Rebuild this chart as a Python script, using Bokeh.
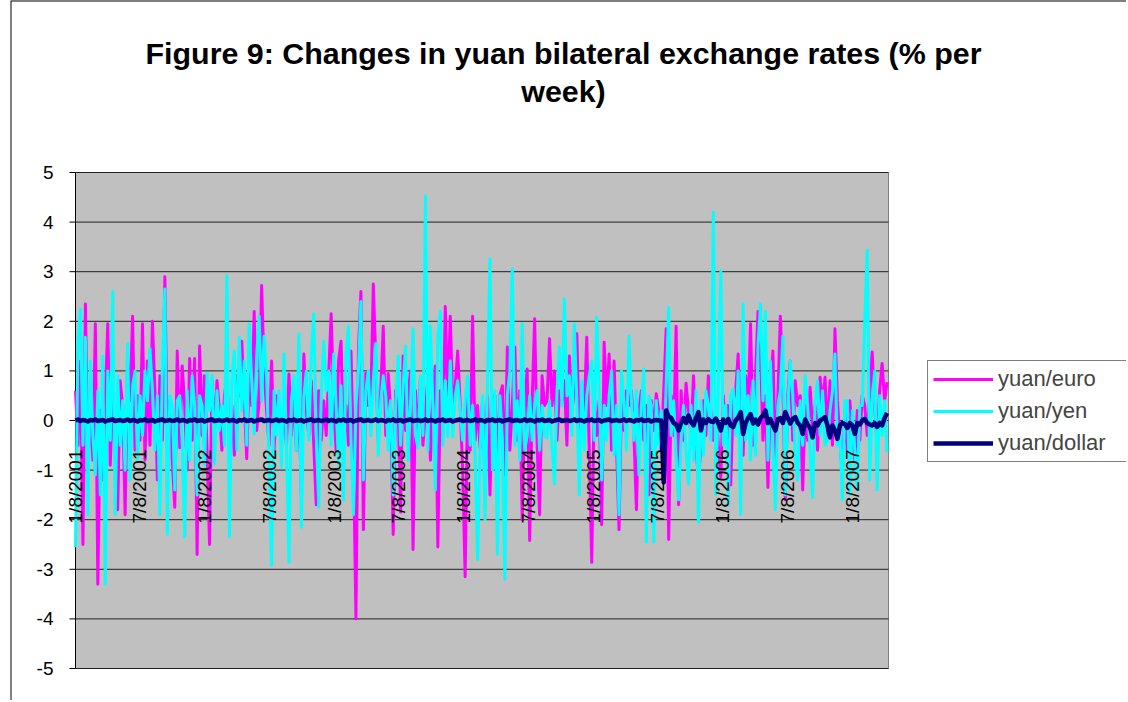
import pandas as pd
from math import pi
from bokeh.plotting import figure
from bokeh.models import Legend, LegendItem, Range1d
from bokeh.core.properties import value
from bokeh.embed import file_html
from bokeh.resources import INLINE

start_date = "2001-01-08"

tick_labels = ["1/8/2001", "7/8/2001", "1/8/2002", "7/8/2002", "1/8/2003", "7/8/2003",
               "1/8/2004", "7/8/2004", "1/8/2005", "7/8/2005", "1/8/2006", "7/8/2006",
               "1/8/2007"]

y_ticks = [-5, -4, -3, -2, -1, 0, 1, 2, 3, 4, 5]

yuan_euro = [
    0.6, -0.5, 1.2, -2.5, 2.35, -1.0, 0.3, -0.8, 1.95, -3.3, 0.2, -1.2, 0.4, 1.95,
    -0.9, 0.5, -0.3, -1.8, 0.8, 0.3, -1.9, 1.2, 0.4, 2.1, -0.6, 0.5, -0.4, 1.95,
    -0.8, 1.2, -0.5, 2.0, 0.6, -1.2, 0.9, -0.4, 2.9, -0.6, 0.4, -0.8, -1.75, 1.4,
    -0.55, 1.1, 0.3, -1.0, 1.25, -0.4, 1.25, -2.7, 1.5, -0.3, 0.9, -0.6, -2.5, 0.8,
    -0.3, 0.8, 0.2, -0.6, 0.5, 0.87, -0.4, 0.3, -0.7, 0.9, 0.5, 1.6, 0.4, -0.77,
    1.0, 0.3, 2.2, -0.2, 0.4, 2.72, 1.0, 0.2, -0.5, 1.2, -0.6, 0.5, 0.2, -0.4,
    0.3, -0.5, 0.94, -0.3, 0.5, -0.6, 0.4, -1.5, 1.34, 0.2, -0.3, 0.8, -0.5, -1.7,
    0.6, -0.4, 0.4, -0.3, 0.9, 2.15, 0.4, -0.6, 1.2, 1.6, -0.6, 0.3, -0.5, 1.4,
    -0.7, -4.0, 1.4, 2.6, -2.2, 0.95, 0.3, 0.4, 2.75, 1.2, -0.4, 0.6, 1.9, -0.3,
    0.95, 0.2, -2.3, 0.6, 0.3, -1.85, 1.3, -0.2, 0.5, 1.0, -2.6, 0.6, -0.3, 0.87,
    -0.5, 0.2, 0.87, -0.8, 0.4, 1.1, -2.55, 0.6, -0.3, 2.3, 0.4, 2.1, 0.3, 0.7,
    1.4, 0.3, -1.0, -3.15, 0.5, -0.6, 2.1, -0.4, 0.3, -0.55, 0.4, -1.2, 0.5, -1.5,
    0.5, 0.5, -0.9, 0.5, 0.7, -1.1, 1.48, -0.6, 0.3, 1.48, -0.4, 0.6, -2.0, 0.3,
    1.04, -2.42, 0.4, 2.05, -0.5, -1.9, 0.9, 0.3, 0.4, 1.65, 0.3, 1.0, -0.4, 0.6,
    0.4, 0.8, -0.5, 1.3, 0.2, 0.6, 1.75, -0.4, 0.5, 0.2, 1.68, -0.6, -2.86, 0.5,
    -0.3, 0.4, -2.1, 1.58, 0.3, 1.34, -0.6, 1.2, -0.5, -2.2, 0.45, -0.2, 0.6, 0.3,
    0.6, -0.3, -1.8, 0.2, 0.6, -0.4, 0.3, -1.5, 0.4, -0.2, 0.54, 0.2, -0.6, 0.6,
    1.85, -2.4, 0.5, -0.3, 1.9, -1.7, 0.6, -0.4, 0.75, 0.2, -0.3, 0.9, -0.5, -1.2,
    -0.5, 0.4, -0.3, 0.9, 0.2, -0.4, 0.3, -0.5, -1.15, 0.5, -0.3, 0.3, -1.3, 0.4,
    0.6, 1.34, -0.3, -0.7, 0.9, 0.3, 1.95, -0.5, 0.9, 2.2, 1.4, -0.4, 0.5, -1.35,
    0.6, 1.4, -0.8, 0.5, 2.1, 0.8, -1.6, 0.5, 1.2, -0.4, 0.8, 0.3, 0.5, -1.4,
    0.3, -0.4, 0.67, -0.2, 0.3, -0.6, 0.87, 0.3, 0.87, -0.3, 0.8, -0.5, 1.85, 0.4,
    -0.4, -1.1, 0.2, -0.6, 0.4, -0.3, -0.8, 0.2, -0.4, 0.5, 0.3, -0.3, 0.5, 1.38,
    0.3, -0.5, 0.6, 1.15, 0.4, 0.77,
]

yuan_yen = [
    -2.55, 1.6, 2.25, -0.5, 1.68, -1.9, 1.2, -0.3, -1.1, 0.6, -1.5, 1.3, -3.3, 1.0,
    -0.4, 2.6, -1.9, 0.9, -0.5, 0.4, -1.0, 1.55, -1.2, 0.7, 1.0, -0.8, 0.5, -0.3,
    1.0, 0.4, 1.45, 0.6, -0.6, 0.5, -1.9, 1.0, 2.65, -2.3, 0.5, 0.3, -1.4, 0.4,
    0.5, -0.5, -2.35, 0.6, -0.8, 0.9, 0.3, -1.5, 0.5, 0.3, -0.9, 0.95, 0.2, 0.9,
    -0.87, 0.6, -0.2, 0.3, -0.5, 2.92, -2.35, 0.8, 1.4, -0.6, 1.68, 0.2, 1.2, -0.5,
    1.95, 0.8, -0.27, 1.3, 2.1, 0.4, 1.7, 0.9, -0.8, -2.92, 0.6, -0.3, 0.6, -0.94,
    1.34, -0.5, -2.86, 0.4, 0.9, -0.6, 1.75, -2.15, 0.5, 1.0, -0.4, 1.3, 2.15, -0.3,
    -1.75, 0.5, 1.6, 0.6, 1.0, -0.5, 1.34, 0.3, -0.9, 0.7, -1.6, 1.34, 1.9, -0.4,
    -1.9, 0.3, 1.0, 2.4, -1.2, 0.6, 1.0, -0.3, 0.8, 1.55, -0.7, 0.4, 0.9, 0.5,
    -0.6, 0.4, -1.5, 0.3, 1.3, -0.5, 0.7, 1.5, -0.8, 0.3, 1.85, -0.3, -0.55, 0.9,
    -0.3, 4.53, -0.6, 1.9, 0.3, -1.4, 1.75, 2.2, -0.5, 0.8, -0.33, 1.2, -0.33, 0.5,
    0.8, 0.2, -0.4, 0.4, 0.9, -0.5, 0.3, -0.7, -2.8, -0.6, 0.5, -2.0, 0.8, 3.26,
    -1.0, 0.6, -2.7, 0.5, -0.4, -3.2, 0.5, 1.0, 3.06, -0.5, 0.4, -0.8, 1.95, -0.6,
    -0.3, 0.5, -0.4, 0.3, 0.6, -0.6, 0.3, -0.3, -0.35, 0.4, -0.5, -1.28, 0.6, 1.48,
    0.3, 2.45, 0.5, 0.9, -0.3, 1.95, 0.4, -1.5, 0.8, -0.6, 0.5, 0.9, 1.2, -0.4,
    2.08, 0.6, -1.2, 0.3, -0.4, 0.5, 1.0, -0.7, 0.3, -1.9, 1.0, 0.4, -0.6, 1.7,
    0.4, -0.4, 0.6, -1.1, 0.3, 1.04, -2.45, 0.5, 0.3, -2.45, 0.4, -0.5, 0.2, -0.8,
    0.7, 2.28, -0.3, 0.4, -0.7, -1.6, -0.4, 0.3, -0.6, -1.28, 0.3, -0.8, 0.6, -2.05,
    0.4, -0.7, 0.6, 0.3, -0.4, 4.2, -1.5, 0.6, 3.02, -0.5, 0.3, -1.7, 0.5, 0.64,
    -0.3, 1.0, -1.9, 2.35, -0.4, 0.5, -0.8, 0.8, -0.7, 1.5, 2.35, 0.4, 2.2, -0.8,
    1.2, -0.5, -1.8, 0.3, 0.6, 1.7, -1.5, 0.3, 1.2, 0.5, -0.7, -1.2, 0.4, -0.5,
    0.9, 0.3, -0.6, -1.55, 0.4, 0.8, -0.3, 0.6, -0.5, -0.4, 0.2, 0.6, 1.34, -0.5,
    -0.3, -1.6, 0.4, 0.4, -1.5, 0.2, -0.6, -1.4, 0.3, 0.3, 1.98, 3.43, -1.2, 0.4,
    1.0, -1.4, 0.5, -0.3, 0.4, -0.64,
]

yuan_dollar = [
    0.00, 0.02, -0.01, 0.01, 0.00, -0.02, 0.01, 0.00, 0.02, -0.01, 0.00, 0.01, -0.02, 0.00, 0.01, 0.02, -0.01, 0.00, 0.01, -0.01,
    0.00, 0.02, -0.01, 0.01, 0.00, -0.02, 0.01, 0.00, 0.02, -0.01, 0.00, 0.01, -0.02, 0.00, 0.01, 0.02, -0.01, 0.00, 0.01, -0.01,
    0.00, 0.02, -0.01, 0.01, 0.00, -0.02, 0.01, 0.00, 0.02, -0.01, 0.00, 0.01, -0.02, 0.00, 0.01, 0.02, -0.01, 0.00, 0.01, -0.01,
    0.00, 0.02, -0.01, 0.01, 0.00, -0.02, 0.01, 0.00, 0.02, -0.01, 0.00, 0.01, -0.02, 0.00, 0.01, 0.02, -0.01, 0.00, 0.01, -0.01,
    0.00, 0.02, -0.01, 0.01, 0.00, -0.02, 0.01, 0.00, 0.02, -0.01, 0.00, 0.01, -0.02, 0.00, 0.01, 0.02, -0.01, 0.00, 0.01, -0.01,
    0.00, 0.02, -0.01, 0.01, 0.00, -0.02, 0.01, 0.00, 0.02, -0.01, 0.00, 0.01, -0.02, 0.00, 0.01, 0.02, -0.01, 0.00, 0.01, -0.01,
    0.00, 0.02, -0.01, 0.01, 0.00, -0.02, 0.01, 0.00, 0.02, -0.01, 0.00, 0.01, -0.02, 0.00, 0.01, 0.02, -0.01, 0.00, 0.01, -0.01,
    0.00, 0.02, -0.01, 0.01, 0.00, -0.02, 0.01, 0.00, 0.02, -0.01, 0.00, 0.01, -0.02, 0.00, 0.01, 0.02, -0.01, 0.00, 0.01, -0.01,
    0.00, 0.02, -0.01, 0.01, 0.00, -0.02, 0.01, 0.00, 0.02, -0.01, 0.00, 0.01, -0.02, 0.00, 0.01, 0.02, -0.01, 0.00, 0.01, -0.01,
    0.00, 0.02, -0.01, 0.01, 0.00, -0.02, 0.01, 0.00, 0.02, -0.01, 0.00, 0.01, -0.02, 0.00, 0.01, 0.02, -0.01, 0.00, 0.01, -0.01,
    0.00, 0.02, -0.01, 0.01, 0.00, -0.02, 0.01, 0.00, 0.02, -0.01, 0.00, 0.01, -0.02, 0.00, 0.01, 0.02, -0.01, 0.00, 0.01, -0.01,
    0.00, 0.02, -0.01, 0.01, 0.00, -0.02, 0.01, 0.00, 0.02, -0.01, 0.00, 0.01, -0.02, 0.00, 0.01, 0.00,
    0.00, -1.25, 0.20, 0.08, 0.05, -0.05, -0.08, -0.20, -0.05, 0.05, -0.05, 0.10, -0.03, -0.10, 0.05, 0.17,
    -0.20, 0.02, -0.05, 0.03, -0.02, -0.03, 0.04, -0.06, -0.20, 0.02, -0.05, 0.03, -0.10, -0.13, 0.00, 0.06,
    0.17, -0.27, -0.05, 0.05, 0.13, -0.06, 0.02, -0.08, 0.05, 0.10, 0.20, -0.05, 0.03, -0.10, -0.20, 0.03,
    0.05, -0.05, 0.17, 0.05, -0.06, 0.03, 0.07, -0.05, -0.10, -0.27, 0.02, -0.08, -0.15, -0.34, -0.05, -0.10,
    0.00, 0.03, 0.07, -0.10, -0.34, -0.10, -0.20, -0.37, -0.10, -0.05, -0.07, -0.15, -0.05, -0.10, -0.27, -0.05,
    -0.08, 0.00, 0.03, -0.05, -0.08, -0.10, -0.05, -0.13, -0.05, -0.10, 0.05, 0.15,
]

series_names = ["yuan/euro", "yuan/yen", "yuan/dollar"]
series_colors = ["#FF00FF", "#00FFFF", "#000080"]
series_widths = [3, 3, 4.5]
series_values = [yuan_euro, yuan_yen, yuan_dollar]

title_lines = ["Figure 9: Changes in yuan bilateral exchange rates (% per", "week)"]

FONT = "Liberation Sans"

# ---- layout (pixels on the page) ----
CANVAS_W, CANVAS_H = 1126, 700
FRAME_LEFT = 10                      # chart border sits here
AREA_LEFT, AREA_RIGHT = 75, 888      # grey plot area
AREA_TOP, AREA_BOTTOM = 172, 668
TICK_LEN = 6


def week_dates(vals):
    return pd.date_range(start_date, periods=len(vals), freq="7D")


area_start = pd.Timestamp(start_date)
area_end = week_dates(yuan_euro)[-1] + pd.Timedelta(days=4)
span_days = (area_end - area_start) / pd.Timedelta(days=1)
px_per_day = (AREA_RIGHT - AREA_LEFT) / span_days
px_per_unit = (AREA_BOTTOM - AREA_TOP) / (y_ticks[-1] - y_ticks[0])


def px_x(px):
    return area_start + pd.Timedelta(days=(px - AREA_LEFT) / px_per_day)


def px_y(py):
    return y_ticks[-1] + (AREA_TOP - py) / px_per_unit


p = figure(frame_width=CANVAS_W - FRAME_LEFT, frame_height=CANVAS_H, x_axis_type="datetime",
           x_axis_location=None, y_axis_location=None,
           output_backend="svg", toolbar_location=None,
           min_border_left=FRAME_LEFT, min_border_right=0, min_border_top=0, min_border_bottom=0,
           x_range=Range1d(px_x(FRAME_LEFT), px_x(CANVAS_W)),
           y_range=Range1d(px_y(CANVAS_H), px_y(0)))

p.background_fill_color = "white"
p.border_fill_color = "white"
p.outline_line_color = None
p.grid.visible = False

# chart border (left and top edges are inside the window)
p.line(x=[px_x(FRAME_LEFT), px_x(FRAME_LEFT), px_x(CANVAS_W)],
       y=[px_y(CANVAS_H), px_y(0), px_y(0)], line_color="black", line_width=2)

# grey plot area with its border
p.quad(left=[area_start], right=[area_end], bottom=[y_ticks[0]], top=[y_ticks[-1]],
       fill_color="#C0C0C0", line_color="#808080", line_width=1)

# horizontal gridlines at every value tick
n = len(y_ticks)
p.segment(x0=[area_start] * n, x1=[area_end] * n, y0=y_ticks, y1=y_ticks,
          line_color="#202020", line_width=1)

# value axis: line, outward tick marks, labels
p.segment(x0=[area_start], x1=[area_start], y0=[y_ticks[0]], y1=[y_ticks[-1]],
          line_color="black", line_width=1)
p.segment(x0=[px_x(AREA_LEFT - TICK_LEN)] * n, x1=[area_start] * n, y0=y_ticks, y1=y_ticks,
          line_color="black", line_width=1)
p.text(x=[area_start] * n, y=y_ticks, text=[str(t) for t in y_ticks],
       text_align="right", text_baseline="middle", x_offset=-22,
       text_font=value(FONT), text_font_size="19px", text_color="black")

renderers = []
for name, col, w, vals in zip(series_names, series_colors, series_widths, series_values):
    r = p.line(week_dates(vals), vals, line_color=col, line_width=w, line_join="round")
    renderers.append(r)

# date labels drawn along the zero line (category axis crosses at 0)
tick_dates = [pd.to_datetime(t, format="%m/%d/%Y") for t in tick_labels]
p.text(x=tick_dates, y=[0] * len(tick_dates), text=tick_labels, angle=pi / 2,
       text_align="right", text_baseline="middle", y_offset=29,
       text_font=value(FONT), text_font_size="19px", text_color="black")

# two-line title
p.text(x=[px_x(563)] * 2, y=[px_y(52), px_y(90)], text=title_lines,
       text_align="center", text_baseline="middle",
       text_font=value(FONT), text_font_size="30.4px", text_font_style="bold",
       text_color="black")

legend = Legend(items=[LegendItem(label=nm, renderers=[r]) for nm, r in zip(series_names, renderers)],
                location=(927 - FRAME_LEFT, CANVAS_H - 462))
legend.border_line_color = "black"
legend.border_line_width = 1
legend.background_fill_color = "white"
legend.background_fill_alpha = 1
legend.label_text_font = FONT
legend.label_text_font_size = "22px"
legend.glyph_width = 60
legend.glyph_height = 24
legend.label_height = 24
legend.label_width = 130          # box runs past the window's right edge, as in the reference
legend.label_standoff = 5
legend.spacing = 6
legend.padding = 5
legend.margin = 0
p.add_layout(legend)

open("out.html", "w").write(file_html(p, INLINE))
